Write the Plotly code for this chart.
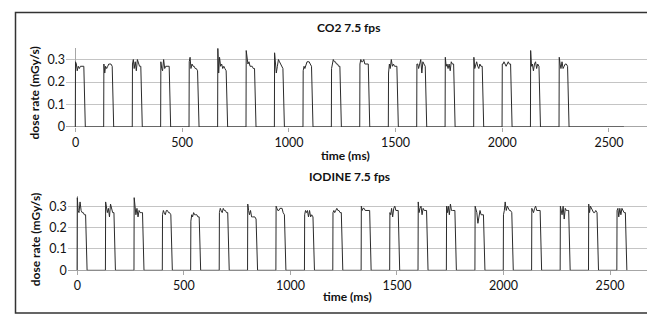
import plotly.graph_objects as go

W, H = 655, 314

# ---- data ----
pulse_offsets_ms = [0, 4, 8, 13, 18, 23, 28, 33, 39]   # sample times inside a pulse
rise_lead_ms = 1
fall_end_ms = 46

co2_pulse_start_ms = [0, 133, 267, 400, 533, 667, 800, 933, 1067, 1200,
                      1333, 1467, 1600, 1733, 1867, 2000, 2133, 2267]
co2_pulse_levels = [
    [0.29, 0.28, 0.25, 0.27, 0.26, 0.27, 0.27, 0.27, 0.27],
    [0.28, 0.24, 0.27, 0.26, 0.27, 0.28, 0.28, 0.28, 0.27],
    [0.28, 0.30, 0.26, 0.29, 0.25, 0.30, 0.28, 0.27, 0.27],
    [0.29, 0.26, 0.25, 0.30, 0.26, 0.27, 0.27, 0.27, 0.27],
    [0.29, 0.31, 0.26, 0.28, 0.27, 0.27, 0.26, 0.26, 0.25],
    [0.35, 0.24, 0.31, 0.27, 0.28, 0.26, 0.27, 0.26, 0.25],
    [0.34, 0.31, 0.28, 0.29, 0.27, 0.27, 0.27, 0.26, 0.26],
    [0.33, 0.26, 0.24, 0.27, 0.30, 0.29, 0.28, 0.27, 0.26],
    [0.25, 0.27, 0.26, 0.28, 0.29, 0.29, 0.29, 0.28, 0.27],
    [0.26, 0.28, 0.30, 0.29, 0.29, 0.28, 0.28, 0.27, 0.27],
    [0.28, 0.30, 0.29, 0.29, 0.30, 0.28, 0.28, 0.28, 0.28],
    [0.24, 0.28, 0.26, 0.30, 0.27, 0.28, 0.27, 0.27, 0.27],
    [0.28, 0.28, 0.26, 0.28, 0.30, 0.24, 0.29, 0.28, 0.27],
    [0.31, 0.27, 0.28, 0.26, 0.28, 0.25, 0.29, 0.28, 0.28],
    [0.31, 0.26, 0.28, 0.29, 0.27, 0.26, 0.28, 0.27, 0.27],
    [0.28, 0.28, 0.29, 0.28, 0.27, 0.28, 0.29, 0.28, 0.28],
    [0.34, 0.27, 0.28, 0.25, 0.28, 0.29, 0.26, 0.28, 0.27],
    [0.31, 0.28, 0.26, 0.29, 0.26, 0.27, 0.28, 0.28, 0.27],
]
co2_end_ms = 2570

iodine_pulse_start_ms = [0, 133, 267, 400, 533, 667, 800, 933, 1067, 1200,
                         1333, 1467, 1600, 1733, 1867, 2000, 2133, 2267, 2400, 2533]
iodine_pulse_levels = [
    [0.34, 0.28, 0.27, 0.32, 0.28, 0.27, 0.27, 0.26, 0.26],
    [0.32, 0.30, 0.27, 0.29, 0.25, 0.31, 0.29, 0.27, 0.27],
    [0.34, 0.30, 0.26, 0.29, 0.25, 0.28, 0.27, 0.27, 0.27],
    [0.26, 0.28, 0.27, 0.26, 0.28, 0.28, 0.27, 0.27, 0.26],
    [0.23, 0.26, 0.25, 0.27, 0.26, 0.26, 0.26, 0.25, 0.25],
    [0.27, 0.29, 0.28, 0.27, 0.29, 0.28, 0.28, 0.27, 0.27],
    [0.31, 0.28, 0.26, 0.28, 0.25, 0.25, 0.25, 0.25, 0.24],
    [0.30, 0.29, 0.28, 0.28, 0.29, 0.29, 0.29, 0.27, 0.26],
    [0.26, 0.28, 0.27, 0.28, 0.25, 0.28, 0.25, 0.26, 0.25],
    [0.27, 0.28, 0.27, 0.28, 0.29, 0.28, 0.28, 0.27, 0.27],
    [0.30, 0.28, 0.29, 0.29, 0.28, 0.28, 0.28, 0.28, 0.28],
    [0.27, 0.26, 0.29, 0.25, 0.29, 0.30, 0.28, 0.28, 0.28],
    [0.32, 0.27, 0.29, 0.30, 0.26, 0.29, 0.28, 0.28, 0.28],
    [0.30, 0.27, 0.30, 0.26, 0.31, 0.28, 0.28, 0.28, 0.28],
    [0.30, 0.28, 0.27, 0.22, 0.26, 0.28, 0.26, 0.26, 0.26],
    [0.26, 0.28, 0.32, 0.28, 0.30, 0.29, 0.28, 0.28, 0.27],
    [0.29, 0.28, 0.27, 0.29, 0.30, 0.28, 0.28, 0.28, 0.28],
    [0.30, 0.28, 0.26, 0.30, 0.24, 0.29, 0.28, 0.28, 0.28],
    [0.31, 0.27, 0.30, 0.29, 0.28, 0.27, 0.27, 0.28, 0.27],
    [0.28, 0.29, 0.25, 0.29, 0.26, 0.29, 0.28, 0.27, 0.27],
]
iodine_end_ms = 2579

x_tick_values = [0, 500, 1000, 1500, 2000, 2500]
y_tick_values = [0, 0.1, 0.2, 0.3]
y_tick_text = ["0", "0.1", "0.2", "0.3"]
titles = ["CO2 7.5 fps", "IODINE 7.5 fps"]
x_title = "time (ms)"
y_title = "dose rate (mGy/s)"


def build(starts, levels, end):
    t, v = [], []
    for s, lv in zip(starts, levels):
        t.append(s - rise_lead_ms); v.append(0)
        for o, val in zip(pulse_offsets_ms, lv):
            t.append(s + o); v.append(val)
        t.append(s + fall_end_ms); v.append(0)
    if end > t[-1]:
        t.append(end); v.append(0)
    return t, v


def px(x):
    return x / W


def py(y):
    return 1 - y / H


FONT = "Lato, 'Open Sans', sans-serif"
LINE = "#2b2b2b"
GRID = "#c4c4c4"

co2_t, co2_v = build(co2_pulse_start_ms, co2_pulse_levels, co2_end_ms)
io_t, io_v = build(iodine_pulse_start_ms, iodine_pulse_levels, iodine_end_ms)

fig = go.Figure()
fig.add_trace(go.Scatter(x=co2_t, y=co2_v, mode="lines",
                         line=dict(color=LINE, width=1), xaxis="x", yaxis="y",
                         showlegend=False, hoverinfo="skip"))
fig.add_trace(go.Scatter(x=io_t, y=io_v, mode="lines",
                         line=dict(color=LINE, width=1), xaxis="x2", yaxis="y2",
                         showlegend=False, hoverinfo="skip"))

xr = [-45, 2697]
tickfont = dict(family=FONT, size=12.5, color="#111111")
common_x = dict(range=xr, tickvals=x_tick_values, showgrid=False,
                zeroline=True, zerolinecolor="#a6a6a6", zerolinewidth=1,
                showline=False, ticks="outside", ticklen=4, tickcolor="#a6a6a6",
                tickfont=tickfont, fixedrange=True)
common_y = dict(range=[0, 0.35], tickvals=y_tick_values, ticktext=y_tick_text,
                showgrid=True, gridcolor=GRID, gridwidth=1,
                zeroline=True, zerolinecolor="#a6a6a6", zerolinewidth=1,
                showline=False, ticks="",
                tickfont=tickfont, fixedrange=True)

fig.update_layout(
    width=W, height=H,
    margin=dict(l=0, r=0, t=0, b=0),
    paper_bgcolor="white", plot_bgcolor="white",
    xaxis=dict(domain=[px(57.9), px(643.0)], anchor="y", **common_x),
    yaxis=dict(domain=[py(121.7), py(41.2)], anchor="x", **common_y),
    xaxis2=dict(domain=[px(59.7), px(644.0)], anchor="y2", **common_x),
    yaxis2=dict(domain=[py(268.3), py(191.8)], anchor="x2", **common_y),
)

ann = []
bold = dict(family=FONT, size=12, color="#111111")
for txt, x, y in [(titles[0], 340, 20), (titles[1], 341, 172),
                  (x_title, 338, 151), (x_title, 339, 295)]:
    ann.append(dict(text="<b>%s</b>" % txt, x=px(x), y=py(y), xref="paper", yref="paper",
                    showarrow=False, xanchor="center", yanchor="middle", font=bold))
for y in (87.5, 237.5):
    ann.append(dict(text="<b>%s</b>" % y_title, x=px(27), y=py(y), xref="paper", yref="paper",
                    showarrow=False, xanchor="center", yanchor="middle", textangle=-90, font=bold))
fig.update_layout(annotations=ann)

fig.add_shape(type="rect", xref="paper", yref="paper",
              x0=px(7.5), x1=px(652), y0=py(312), y1=py(4.5),
              line=dict(color="#333333", width=1.5))

fig.write_html("out.html")
